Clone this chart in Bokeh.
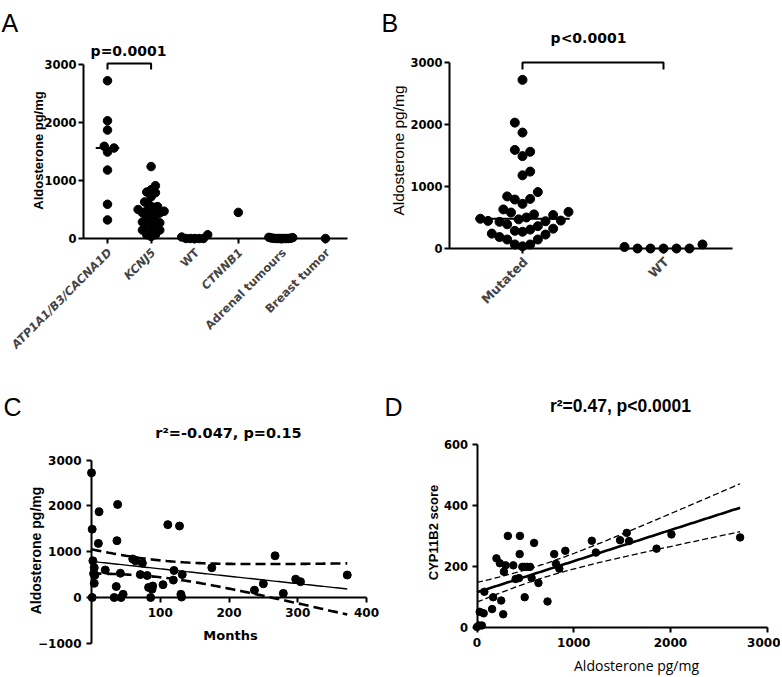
import numpy as np
from bokeh.plotting import figure
from bokeh.models import Range1d, FixedTicker, Label
from bokeh.layouts import column, row
from bokeh.embed import file_html
from bokeh.resources import INLINE

# ---------------- data ----------------
a_categories = ["ATP1A1/B3/CACNA1D", "KCNJ5", "WT", "CTNNB1", "Adrenal tumours", "Breast tumor"]
a_italic = [True, True, False, True, False, False]
atp = [2720, 2030, 1870, 1590, 1560, 1490, 1180, 590, 320]
kcnj5 = [1240, 910, 840, 800, 790, 720, 630, 580, 550, 540, 500, 480, 470, 445, 440,
         430, 390, 360, 305, 285, 270, 240, 225, 185, 145, 145, 65, 65, 35]
ctnnb1 = [450]
wt = [0, 65, 0, 25, 0, 0, 0]
adrenal = [10, 0, 5, 0, 15, 0, 0, 20, 0, 5, 0, 0]
breast = [0]

b_categories = ["Mutated", "WT"]

c_months = [0, 1, 11, 10, 38, 37, 2, 4, 3, 5, 4, 1, 20, 33, 36, 42, 46, 43, 60, 64, 74, 71,
            81, 83, 86, 89, 88, 104, 111, 128, 120, 119, 132, 130, 131, 175, 237, 250, 267,
            279, 297, 304, 372]
c_aldo = [2720, 1490, 1870, 1180, 2030, 1240, 800, 650, 520, 490, 310, 0, 600, 0, 240, 530,
          70, 0, 840, 800, 750, 500, 480, 220, 0, 250, 180, 280, 1590, 1560, 590, 380, 500,
          70, 10, 650, 160, 300, 910, 90, 400, 345, 490]

d_aldo = [0, 20, 50, 28, 69, 76, 156, 167, 250, 271, 201, 236, 278, 295, 319, 375, 399, 444,
          441, 434, 469, 493, 521, 548, 493, 565, 590, 635, 729, 798, 816, 851, 913, 1187,
          1229, 1479, 1548, 1572, 1856, 2010, 2720]
d_cyp = [0, 5, 5, 50, 45, 116, 59, 98, 87, 42, 226, 210, 182, 203, 300, 203, 158, 300, 240,
         161, 198, 198, 198, 198, 98, 161, 277, 145, 84, 240, 208, 192, 251, 284, 245, 286,
         310, 283, 258, 305, 295]

a_ticks_y = [0, 1000, 2000, 3000]
c_ticks_x = [100, 200, 300, 400]
c_ticks_y = [-1000, 0, 1000, 2000, 3000]
d_ticks_x = [0, 1000, 2000, 3000]
d_ticks_y = [0, 200, 400, 600]

BOLDW = "DejaVu Sans"
ARIAL = "Liberation Sans"


# ---------------- layout helpers (page pixels) ----------------
def panel(ox, oy, W, H, xcal, ycal):
    (Xa, va), (Xb, vb) = xcal
    sx = (Xb - Xa) / (vb - va)
    (Ya, ua), (Yb, ub) = ycal
    sy = (Yb - Ya) / (ub - ua)
    xr = (va + (ox - Xa) / sx, va + (ox + W - Xa) / sx)
    yr = (ua + (oy + H - Ya) / sy, ua + (oy - Ya) / sy)
    return dict(ox=ox, oy=oy, W=W, H=H, xr=xr, yr=yr, sx=sx, sy=sy)


PA = panel(0, 0, 378, 358, ((107, 1), (325, 6)), ((238, 0), (64, 3000)))
PB = panel(378, 0, 402, 358, ((522, 1), (663, 2)), ((248, 0), (62, 3000)))
PC = panel(0, 358, 382, 317, ((91, 0), (366, 400)), ((597, 0), (459.5, 3000)))
PD = panel(382, 358, 398, 317, ((476.5, 0), (766.7, 3000)), ((626.5, 0), (444.3, 600)))


def to_data(P, X, Y):
    return (P["xr"][0] + (X - P["ox"]) / P["sx"],
            P["yr"][0] + (Y - (P["oy"] + P["H"])) / P["sy"])


def make_fig(P):
    p = figure(frame_width=P["W"], frame_height=P["H"],
               x_range=Range1d(*P["xr"]), y_range=Range1d(*P["yr"]),
               min_border_left=0, min_border_right=0, min_border_top=0, min_border_bottom=0,
               output_backend="svg", toolbar_location=None)
    p.grid.visible = False
    p.outline_line_color = None
    p.background_fill_color = "white"
    p.border_fill_color = "white"
    return p


def style_axis(ax, ticks, bounds, fixed, size, standoff, hide_labels=False):
    ax.ticker = FixedTicker(ticks=ticks)
    ax.bounds = bounds
    ax.fixed_location = fixed
    ax.axis_line_width = 2
    ax.axis_line_color = "black"
    ax.major_tick_line_width = 2
    ax.major_tick_line_color = "black"
    ax.major_tick_in = 0
    ax.major_tick_out = 5
    ax.minor_tick_line_color = None
    ax.major_label_text_font = BOLDW
    ax.major_label_text_font_style = "bold"
    ax.major_label_text_font_size = size
    ax.major_label_text_color = "black"
    ax.major_label_standoff = standoff
    if hide_labels:
        ax.major_label_overrides = {t: "" for t in ticks}


def add_label(p, P, X, Y, text, font, size, style="normal", align="center",
              baseline="middle", angle=0.0):
    x, y = to_data(P, X, Y)
    p.add_layout(Label(x=x, y=y, text=text, text_font=font, text_font_size=size,
                       text_font_style=style, text_align=align, text_baseline=baseline,
                       angle=angle, text_color="black"))


def swarm(vals, P, d, maxw):
    px, py = P["sx"], -P["sy"]
    order = sorted(range(len(vals)), key=lambda i: vals[i])
    placed = []
    offs = [0.0] * len(vals)
    step = d / 2.0
    for n, i in enumerate(order):
        y = vals[i] * py
        k = 0
        found = None
        while found is None:
            if k == 0:
                cands = [0.0]
            else:
                cands = [k * step, -k * step] if n % 2 == 0 else [-k * step, k * step]
            for c in cands:
                if all((c - ox) ** 2 + (y - oy) ** 2 >= d * d - 1e-9 for ox, oy in placed):
                    found = c
                    break
            k += 1
        placed.append((found, y))
        offs[i] = found
    m = max(abs(o) for o in offs)
    if m > maxw:
        offs = [o * maxw / m for o in offs]
    return [o / px for o in offs]


def fit_band(x, y, t=2.02):
    x = np.asarray(x, float)
    y = np.asarray(y, float)
    b, a = np.polyfit(x, y, 1)
    xs = np.linspace(x.min(), x.max(), 120)
    yhat = a + b * xs
    resid = y - (a + b * x)
    s = np.sqrt(np.sum(resid ** 2) / (len(x) - 2))
    sxx = np.sum((x - x.mean()) ** 2)
    se = s * np.sqrt(1.0 / len(x) + (xs - x.mean()) ** 2 / sxx)
    return xs, yhat, yhat - t * se, yhat + t * se


# ---------------- Panel A ----------------
pa = make_fig(PA)
x_axis_start_a = to_data(PA, 83, 0)[0]
x_axis_end_a = to_data(PA, 347, 0)[0]
style_axis(pa.yaxis[0], a_ticks_y, (0, 3000), x_axis_start_a, "11.5px", 2)
style_axis(pa.xaxis[0], [1, 2, 3, 4, 5, 6], (x_axis_start_a, x_axis_end_a), 0, "11px", 3,
           hide_labels=True)
a_groups = [atp, kcnj5, wt, ctnnb1, adrenal, breast]
for ci, grp in enumerate(a_groups):
    offs = swarm(grp, PA, 6.5, 13.0)
    pa.scatter([ci + 1 + o for o in offs], grp, size=8.5, color="black")
med_a = float(np.median(atp))
pa.segment(x0=[1 - 0.27], x1=[1 + 0.27], y0=[med_a], y1=[med_a], line_width=2, color="black")
a_bracket = [2914, 3017]
pa.line([1, 1, 2, 2], [a_bracket[0], a_bracket[1], a_bracket[1], a_bracket[0]],
        line_width=2, color="black")
add_label(pa, PA, 128, 50, "p=0.0001", BOLDW, "14px", "bold")
for ci, (name, ital) in enumerate(zip(a_categories, a_italic)):
    yy = to_data(PA, 0, 250)[1]
    pa.add_layout(Label(x=ci + 1 + 0.05, y=yy, text=name, text_font=BOLDW,
                        text_font_size="11.5px",
                        text_font_style="bold italic" if ital else "bold",
                        text_align="right", text_baseline="middle", angle=np.pi / 4))
add_label(pa, PA, 38, 150, "Aldosterone pg/mg", ARIAL, "13px", "bold", angle=np.pi / 2)
add_label(pa, PA, 1, 22, "A", ARIAL, "25px", "normal", align="left", baseline="alphabetic")

# ---------------- Panel B ----------------
pb = make_fig(PB)
x_axis_start_b = to_data(PB, 449, 0)[0]
x_axis_end_b = to_data(PB, 732, 0)[0]
style_axis(pb.yaxis[0], a_ticks_y, (0, 3000), x_axis_start_b, "11.5px", 2)
style_axis(pb.xaxis[0], [1, 2], (x_axis_start_b, x_axis_end_b), 0, "11px", 3,
           hide_labels=True)
mutated = atp + kcnj5 + ctnnb1
b_groups = [mutated, wt]
for ci, grp in enumerate(b_groups):
    offs = swarm(grp, PB, 13.0, 46.0)
    pb.scatter([ci + 1 + o for o in offs], grp, size=9, color="black")
med_b = float(np.median(mutated))
pb.segment(x0=[1 - 0.335], x1=[1 + 0.335], y0=[med_b], y1=[med_b], line_width=2, color="black")
b_bracket = [2887, 3000]
pb.line([1, 1, 2, 2], [b_bracket[0], b_bracket[1], b_bracket[1], b_bracket[0]],
        line_width=2, color="black")
add_label(pb, PB, 588, 37, "p<0.0001", BOLDW, "14px", "bold")
for ci, name in enumerate(b_categories):
    yy = to_data(PB, 0, 259)[1]
    pb.add_layout(Label(x=ci + 1 + 0.02, y=yy, text=name, text_font=BOLDW,
                        text_font_size="12.5px", text_font_style="bold",
                        text_align="right", text_baseline="middle", angle=np.pi / 4))
add_label(pb, PB, 398, 150, "Aldosterone pg/mg", ARIAL, "15.5px", "normal", angle=np.pi / 2)
add_label(pb, PB, 381, 22, "B", ARIAL, "25px", "normal", align="left", baseline="alphabetic")

# ---------------- Panel C ----------------
pc = make_fig(PC)
style_axis(pc.yaxis[0], c_ticks_y, (-1000, 3000), 0, "12px", 5)
style_axis(pc.xaxis[0], c_ticks_x, (0, 400), 0, "12px", 5)
cx, cy, clo, chi = fit_band(c_months, c_aldo)
pc.line(cx, chi, line_width=2.6, line_dash="10 5", color="black")
pc.line(cx, clo, line_width=2.6, line_dash="10 5", color="black")
pc.line(cx, cy, line_width=1.4, color="black")
pc.scatter(c_months, c_aldo, size=8, color="black")
add_label(pc, PC, 228, 432, "r\u00b2=-0.047, p=0.15", BOLDW, "14.5px", "bold")
add_label(pc, PC, 230, 635, "Months", BOLDW, "13px", "bold")
add_label(pc, PC, 35, 550, "Aldosterone pg/mg", ARIAL, "14px", "bold", angle=np.pi / 2)
add_label(pc, PC, 3, 406, "C", ARIAL, "25px", "normal", align="left", baseline="alphabetic")

# ---------------- Panel D ----------------
pd_ = make_fig(PD)
style_axis(pd_.yaxis[0], d_ticks_y, (0, 600), 0, "11.5px", 4)
style_axis(pd_.xaxis[0], d_ticks_x, (0, 3000), 0, "12px", 6)
dx, dy, dlo, dhi = fit_band(d_aldo, d_cyp)
pd_.line(dx, dhi, line_width=1.3, line_dash="6 3", color="black")
pd_.line(dx, dlo, line_width=1.3, line_dash="6 3", color="black")
pd_.line(dx, dy, line_width=2.6, color="black")
pd_.scatter(d_aldo, d_cyp, size=7.5, color="black")
add_label(pd_, PD, 620, 405, "r\u00b2=0.47, p<0.0001", ARIAL, "17.5px", "bold")
add_label(pd_, PD, 433, 532, "CYP11B2 score", ARIAL, "13px", "bold", angle=np.pi / 2)
add_label(pd_, PD, 636, 665, "Aldosterone pg/mg", "Open Sans", "14px", "normal")
add_label(pd_, PD, 384, 406, "D", ARIAL, "25px", "normal", align="left", baseline="alphabetic")

layout = column(row(pa, pb), row(pc, pd_))
open("out.html", "w").write(file_html(layout, INLINE))
